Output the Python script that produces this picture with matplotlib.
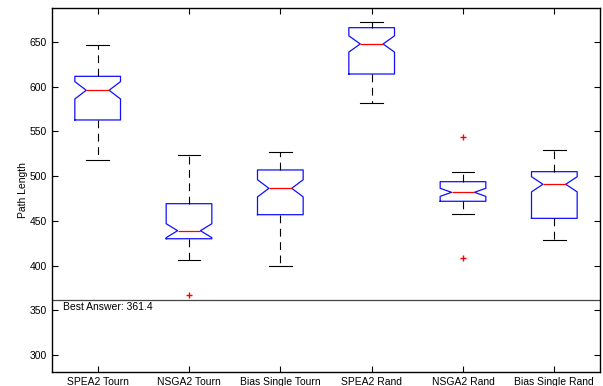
import matplotlib.pyplot as plt

plt.rcParams['font.family'] = ['Liberation Sans', 'DejaVu Sans']

# box statistics
labels = ['SPEA2 Tourn', 'NSGA2 Tourn', 'Bias Single Tourn',
          'SPEA2 Rand', 'NSGA2 Rand', 'Bias Single Rand']
medians = [596, 439, 486.4, 647.8, 481.9, 490.9]
q1 = [562.8, 430, 456.9, 614.2, 471.9, 452.8]
q3 = [611.6, 469.2, 506.9, 666, 493.8, 505]
whislo = [517.7, 406.2, 399, 581.8, 458, 428.9]
whishi = [646.3, 523.6, 527.3, 672.4, 504.3, 528.9]
notch_half = [9.7, 7.8, 9.6, 9.1, 4.5, 8.5]
outliers = [[], [366.8], [], [], [544, 408.5], []]
best = 361.4

stats = []
for i in range(len(labels)):
    stats.append({
        'label': labels[i], 'med': medians[i], 'q1': q1[i], 'q3': q3[i],
        'whislo': whislo[i], 'whishi': whishi[i],
        'cilo': medians[i] - notch_half[i], 'cihi': medians[i] + notch_half[i],
        'fliers': outliers[i],
    })

fig = plt.figure(figsize=(6.03, 3.86), dpi=100)
ax = fig.add_axes([52/603, 14/386, 548/603, 364/386])

ax.bxp(stats, shownotches=True, widths=0.5,
       boxprops=dict(color='#1010ff', lw=0.9),
       medianprops=dict(color='red', lw=0.9),
       whiskerprops=dict(color='black', lw=0.8, linestyle=(0, (7, 5))),
       capprops=dict(color='black', lw=0.8),
       flierprops=dict(marker='+', markeredgecolor='red', markersize=5, lw=0))

ax.axhline(best, color='#444444', lw=0.9)
ax.text(0.62, 353.5, 'Best Answer: ' + str(best), fontsize=7.5, va='center')

ax.set_xlim(0.5, 6.5)
ax.set_ylim(281, 688)
ax.set_yticks(range(300, 651, 50))
ax.set_ylabel('Path Length', fontsize=7.5, labelpad=1)
ax.tick_params(direction='in', top=True, right=True, labelsize=7.5, length=4)
for s in ax.spines.values():
    s.set_linewidth(1.0)

fig.savefig('out.png', dpi=100)
